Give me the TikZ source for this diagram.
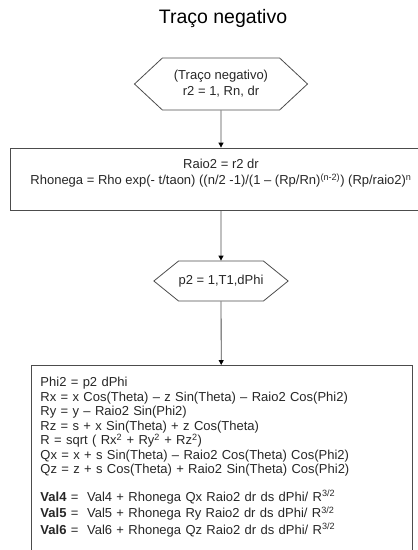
\documentclass[tikz,border=0pt]{standalone}
\usepackage{fontspec}
\setmainfont{Liberation Sans}
\usetikzlibrary{shapes.symbols, arrows.meta, positioning}
\tikzstyle{titletext} = [font=\fontsize{19.5}{22}\selectfont, text=black]
\tikzstyle{hexa}      = [signal, signal to=west and east, draw=black!70, line width=0.8pt, text centered, text=black!85, inner sep=0pt, font=\fontsize{13}{16}\selectfont]
\tikzstyle{process}   = [rectangle, draw=black!70, line width=0.8pt, text=black!85, font=\fontsize{13}{14.5}\selectfont]
\tikzstyle{arrow}     = [line width=0.8pt, draw=black!70, -{Triangle[width=5pt,length=5pt,color=black]}]
\tikzset{every node/.style={align=center}}

\begin{document}
\begin{tikzpicture}[x=1pt, y=-1pt]
    \useasboundingbox (0,0) rectangle (418,550);
    \clip (0,0) rectangle (418,550);

    \node (ttl)  at (223, 18)  [titletext] {Traço negativo};
    \node (ini)  at (221, 84)  [hexa, minimum width=173pt, minimum height=52pt, signal pointer angle=86]
        {(Traço negativo)\\r2 = 1, Rn, dr};
    \node (raio) at (221,179)  [process, minimum width=422pt, minimum height=62pt, text depth=14pt, font=\fontsize{13}{16}\selectfont]
        {Raio2 = r2 dr\\Rhonega = Rho exp(- t/taon) ((n/2 -1)/(1 – (Rp/Rn)\textsuperscript{(n-2)}) (Rp/raio2)\textsuperscript{n}};
    \node (loop) at (221,281)  [hexa, minimum width=127pt, minimum height=40pt, signal pointer angle=78]
        {p2 = 1,T1,dPhi};
    \node (calc) at (221.5,365) [process, anchor=north, text width=362pt, align=left, inner xsep=9.5pt, inner ysep=12pt]
        {Phi2 = p2 dPhi\\
         Rx = x Cos(Theta) – z Sin(Theta) – Raio2 Cos(Phi2)\\
         Ry = y – Raio2 Sin(Phi2)\\
         Rz = s + x Sin(Theta) + z Cos(Theta)\\
         R = sqrt ( Rx\textsuperscript{2} + Ry\textsuperscript{2} + Rz\textsuperscript{2})\\
         Qx = x + s Sin(Theta) – Raio2 Cos(Theta) Cos(Phi2)\\
         Qz = z + s Cos(Theta) + Raio2 Sin(Theta) Cos(Phi2)\\[13pt]
         \textbf{Val4} =\ \ Val4 + Rhonega Qx Raio2 dr ds dPhi/ R\textsuperscript{3/2}\\[2pt]
         \textbf{Val5} =\ \ Val5 + Rhonega Ry Raio2 dr ds dPhi/ R\textsuperscript{3/2}\\[2pt]
         \textbf{Val6} =\ \ Val6 + Rhonega Qz Raio2 dr ds dPhi/ R\textsuperscript{3/2}\\[40pt]
         \strut};

    \draw [arrow] (ini)  -- (raio);
    \draw [arrow] (raio) -- (loop);
    \draw [arrow] (loop) -- (calc);
\end{tikzpicture}
\end{document}
